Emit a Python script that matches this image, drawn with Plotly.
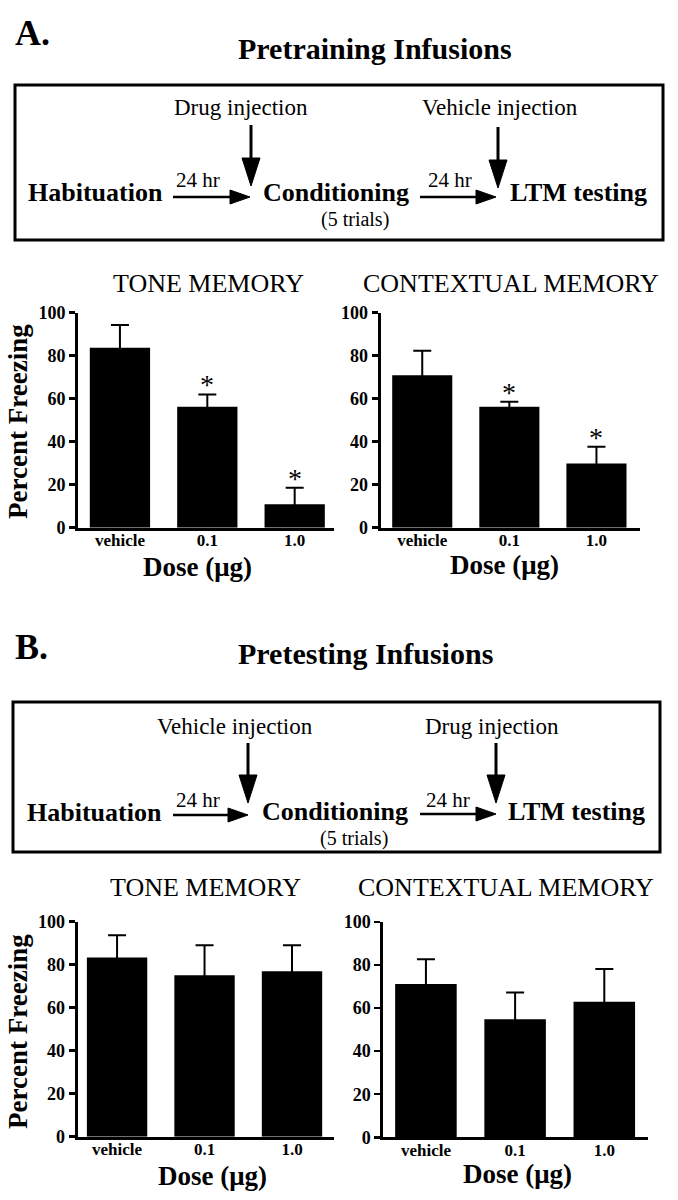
import plotly.graph_objects as go

W, H = 678, 1200
FONT = "Liberation Serif"

# ---------------- data ----------------
doses = ["vehicle", "0.1", "1.0"]
y_ticks = [0, 20, 40, 60, 80, 100]

a_tone_mean = [83.7, 56.3, 10.9]
a_tone_sem = [10.6, 5.7, 7.7]
a_tone_sig = [False, True, True]

a_ctx_mean = [70.9, 56.3, 29.9]
a_ctx_sem = [11.4, 2.3, 7.8]
a_ctx_sig = [False, True, True]

b_tone_mean = [83.3, 75.1, 76.9]
b_tone_sem = [10.4, 13.9, 12.1]
b_tone_sig = [False, False, False]

b_ctx_mean = [71.2, 54.8, 63.0]
b_ctx_sem = [11.5, 12.4, 15.2]
b_ctx_sig = [False, False, False]


def px(x):
    return x / W


def py(y):
    return 1 - y / H


panels = [
    # (means, sems, sig, axis suffix, x px domain, y px domain (bottom, top), x range)
    (a_tone_mean, a_tone_sem, a_tone_sig, "", (78, 334), (527.7, 312.7), (-0.48, 2.45)),
    (a_ctx_mean, a_ctx_sem, a_ctx_sig, "2", (380.7, 640), (527.7, 312.7), (-0.477, 2.50)),
    (b_tone_mean, b_tone_sem, b_tone_sig, "3", (77.7, 334), (1136.7, 921.7), (-0.45, 2.48)),
    (b_ctx_mean, b_ctx_sem, b_ctx_sig, "4", (383.3, 648), (1137.3, 922), (-0.478, 2.49)),
]

fig = go.Figure()
annotations = []
shapes = []

for means, sems, sig, sfx, xd, yd, xr in panels:
    xa = "x" + sfx
    ya = "y" + sfx
    fig.add_trace(go.Bar(
        x=doses, y=means, xaxis=xa, yaxis=ya,
        marker=dict(color="black", line=dict(color="black", width=0)),
        width=0.69,
        error_y=dict(type="data", symmetric=True, array=sems,
                     color="black", thickness=2, width=9),
        showlegend=False, hoverinfo="skip",
    ))
    xaxis_cfg = dict(
        domain=[px(xd[0]), px(xd[1])], anchor=ya, type="category",
        range=list(xr), showline=True, linewidth=3, linecolor="black",
        ticks="", showgrid=False, zeroline=False, automargin=False,
        ticklabelstandoff=-5,
        tickfont=dict(family=FONT, size=17, color="black", weight="bold"),
        fixedrange=True,
    )
    yaxis_cfg = dict(
        domain=[py(yd[0]), py(yd[1])], anchor=xa, range=[0, 100],
        showline=True, linewidth=3, linecolor="black",
        ticks="outside", ticklen=6, tickwidth=2.5, tickcolor="black",
        tickvals=y_ticks, showgrid=False, zeroline=False, automargin=False,
        tickfont=dict(family=FONT, size=18, color="black", weight="bold"),
        fixedrange=True,
    )
    fig.layout["xaxis" + sfx] = xaxis_cfg
    fig.layout["yaxis" + sfx] = yaxis_cfg
    for i, (m, s, g) in enumerate(zip(means, sems, sig)):
        if g:
            annotations.append(dict(
                x=i, y=m + s, xref=xa, yref=ya, text="*", showarrow=False,
                xanchor="center", yanchor="bottom", yshift=-8,
                font=dict(family=FONT, size=28, color="black")))


def txt(x, y, text, size, bold=False, angle=0):
    t = f"<b>{text}</b>" if bold else text
    annotations.append(dict(
        x=px(x), y=py(y), xref="paper", yref="paper", text=t,
        showarrow=False, xanchor="center", yanchor="middle", borderpad=0,
        textangle=angle, font=dict(family=FONT, size=size, color="black")))


def vline_arrow(x, y0, y1, head=28, hw=9):
    shapes.append(dict(type="line", xref="paper", yref="paper",
                       x0=px(x), x1=px(x), y0=py(y0), y1=py(y1 - head + 2),
                       line=dict(color="black", width=3)))
    shapes.append(dict(type="path", xref="paper", yref="paper",
                       path=f"M {px(x - hw)},{py(y1 - head)} L {px(x + hw)},{py(y1 - head)} "
                            f"L {px(x)},{py(y1)} Z",
                       fillcolor="black", line=dict(color="black", width=1)))


def hline_arrow(x0, x1, y, head=20, hh=7):
    shapes.append(dict(type="line", xref="paper", yref="paper",
                       x0=px(x0), x1=px(x1 - head + 2), y0=py(y), y1=py(y),
                       line=dict(color="black", width=2.5)))
    shapes.append(dict(type="path", xref="paper", yref="paper",
                       path=f"M {px(x1 - head)},{py(y - hh)} L {px(x1 - head)},{py(y + hh)} "
                            f"L {px(x1)},{py(y)} Z",
                       fillcolor="black", line=dict(color="black", width=1)))


def box(x0, y0, x1, y1):
    shapes.append(dict(type="rect", xref="paper", yref="paper",
                       x0=px(x0), x1=px(x1), y0=py(y0), y1=py(y1),
                       line=dict(color="black", width=3), fillcolor="rgba(0,0,0,0)"))


# ---------------- panel A header ----------------
txt(32, 33, "A.", 36, bold=True)
txt(375, 48, "Pretraining Infusions", 30, bold=True)
box(15, 85, 663, 240)
txt(241, 108, "Drug injection", 23)
txt(500, 108, "Vehicle injection", 23)
vline_arrow(251, 125, 186)
vline_arrow(498, 127, 188)
txt(95, 192, "Habituation", 26, bold=True)
txt(198, 180, "24 hr", 21)
hline_arrow(173, 250, 197)
txt(336, 192, "Conditioning", 26, bold=True)
txt(355, 219, "(5 trials)", 20)
txt(450, 180, "24 hr", 21)
hline_arrow(420, 496, 197)
txt(578, 192, "LTM testing", 26, bold=True)

txt(208, 283, "TONE MEMORY", 26)
txt(511, 283, "CONTEXTUAL MEMORY", 26)
txt(18, 422, "Percent Freezing", 27, bold=True, angle=-90)
txt(197, 567, "Dose (μg)", 27, bold=True)
txt(504, 565, "Dose (μg)", 27, bold=True)

# ---------------- panel B header ----------------
txt(31, 647, "B.", 36, bold=True)
txt(365, 653, "Pretesting Infusions", 30, bold=True)
box(13, 702, 660, 852)
txt(235, 726, "Vehicle injection", 23)
txt(492, 726, "Drug injection", 23)
vline_arrow(248, 743, 803)
vline_arrow(496, 743, 803)
txt(94, 812, "Habituation", 26, bold=True)
txt(198, 800, "24 hr", 21)
hline_arrow(173, 248, 815)
txt(335, 811, "Conditioning", 26, bold=True)
txt(354, 838, "(5 trials)", 20)
txt(448, 800, "24 hr", 21)
hline_arrow(420, 496, 814)
txt(576, 811, "LTM testing", 26, bold=True)

txt(205, 887, "TONE MEMORY", 26)
txt(506, 887, "CONTEXTUAL MEMORY", 26)
txt(18, 1032, "Percent Freezing", 27, bold=True, angle=-90)
txt(212, 1176, "Dose (μg)", 27, bold=True)
txt(517, 1174, "Dose (μg)", 27, bold=True)

fig.update_layout(
    width=W, height=H,
    margin=dict(l=0, r=0, t=0, b=0, autoexpand=False),
    paper_bgcolor="white", plot_bgcolor="white",
    annotations=annotations, shapes=shapes,
    bargap=0.3,
    font=dict(family=FONT, color="black"),
)

fig.write_html(
    "out.html",
    config={"displayModeBar": False, "staticPlot": True},
    post_script="document.body.style.margin='0';document.body.style.overflow='hidden';",
)
